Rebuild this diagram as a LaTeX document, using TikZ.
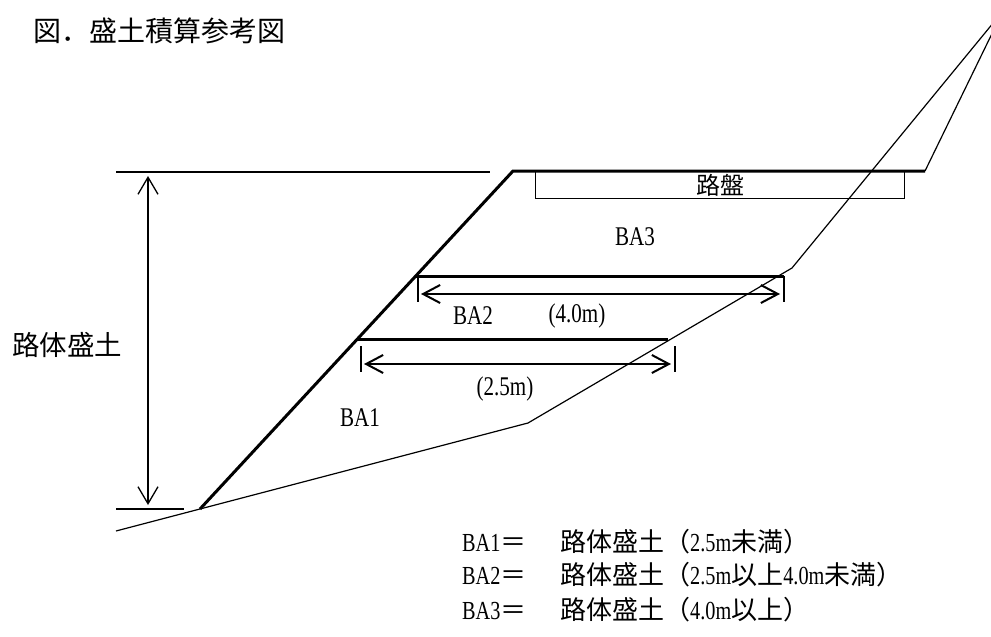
\documentclass[tikz,border=0pt]{standalone}
\usepackage{fontspec}
\setmainfont{Liberation Serif}[FakeStretch=0.78]
\newfontfamily\jp{Noto Sans CJK JP}
\usepackage{tikz}
\usetikzlibrary{arrows.meta}
\tikzset{embank_line/.style={line width=3pt, line join=miter}}
\tikzset{ground_line/.style={line width=1.2pt}}
\tikzset{tick_line/.style={line width=1.5pt}}
\tikzset{width_arrow/.style={<->, >={Straight Barb[length=17pt,width=18pt]}, line width=2pt}}
\tikzset{height_arrow/.style={<->, >={Straight Barb[length=17pt,width=20pt]}, line width=1.3pt}}
\tikzset{my_text/.style={inner sep=0pt}}
\newcommand{\fs}[1]{\fontsize{#1}{#1}\selectfont}

\begin{document}
\begin{tikzpicture}[x=1pt,y=-1pt]
    \useasboundingbox (0,0) rectangle (991,637);
    \clip (0,0) rectangle (991,637);
    %\draw[help lines, step=50] (0,0) grid (991,637);

    % section of the embankment
    \coordinate (toe) at (200,509);
    \coordinate (crest) at (513,171);
    \coordinate (shoulder) at (925,171);
    \coordinate (apex) at (1003,11);
    \coordinate (bend_up) at (792,268);
    \coordinate (bend_low) at (528,423);
    \coordinate (ground_end) at (116,531);
    \draw[ground_line] (ground_end) -- (bend_low) -- (bend_up) -- (apex) -- (shoulder);
    \draw[embank_line] (toe) -- (crest) -- (shoulder);

    % height of the embankment
    \coordinate (top_l) at (116,172);
    \coordinate (top_r) at (490,172);
    \coordinate (bot_l) at (116,509);
    \coordinate (bot_r) at (184,509);
    \coordinate (h_top) at (148,176);
    \coordinate (h_bot) at (148,505);
    \draw[ground_line] (top_l) -- (top_r);
    \draw[ground_line] (bot_l) -- (bot_r);
    \draw[height_arrow] (h_top) -- (h_bot);
    \node[my_text, anchor=west, font=\fs{27.5}] (body) at (12,345) {\jp 路体盛土};

    % road bed
    \node[draw, ground_line, anchor=north west, minimum width=369pt, minimum height=27pt,
          inner sep=0pt, font=\fs{24}] (roadbed) at (535,171) {\jp 路盤};

    % width 4.0m
    \coordinate (ba2_l) at (416,276);
    \coordinate (ba2_r) at (784,276);
    \draw[embank_line] (ba2_l) -- (ba2_r);
    \coordinate (ba2_tl) at (418,302);
    \coordinate (ba2_tr) at (784,302);
    \draw[tick_line] (ba2_l -| ba2_tl) -- (ba2_tl);
    \draw[tick_line] (ba2_r) -- (ba2_tr);
    \coordinate (ba2_al) at (421,294);
    \coordinate (ba2_ar) at (780,294);
    \draw[width_arrow] (ba2_al) -- (ba2_ar);

    % width 2.5m
    \coordinate (ba1_l) at (357,339);
    \coordinate (ba1_r) at (668,339);
    \draw[embank_line] (ba1_l) -- (ba1_r);
    \coordinate (ba1_tl) at (361,346);
    \coordinate (ba1_tr) at (675,346);
    \draw[tick_line] (ba1_tl) -- ++(0,26);
    \draw[tick_line] (ba1_tr) -- ++(0,26);
    \coordinate (ba1_al) at (364,364);
    \coordinate (ba1_ar) at (671,364);
    \draw[width_arrow] (ba1_al) -- (ba1_ar);

    % labels of the parts
    \node[my_text, font=\fs{27}] (ba3) at (635,237) {BA3};
    \node[my_text, font=\fs{27}] (ba2) at (473,316) {BA2};
    \node[my_text, font=\fs{27}] (w_ba2) at (577,316) {(4.0m)};
    \node[my_text, font=\fs{27}] (w_ba1) at (505,389) {(2.5m)};
    \node[my_text, font=\fs{27}] (ba1) at (360,418) {BA1};

    % title
    \node[my_text, anchor=west, font=\fs{28}] (title) at (33,31) {\jp 図．盛土積算参考図};

    % legend
    \node[my_text, anchor=base west, font=\fs{26}] (key_ba1) at (462,551) {BA1{\jp ＝}};
    \node[my_text, anchor=base west, font=\fs{26}] (txt_ba1) at (560,551) {{\jp 路体盛土（}2.5m{\jp 未満）}};
    \node[my_text, anchor=base west, font=\fs{26}] (key_ba2) at (462,584) {BA2{\jp ＝}};
    \node[my_text, anchor=base west, font=\fs{26}] (txt_ba2) at (560,584) {{\jp 路体盛土（}2.5m{\jp 以上}4.0m{\jp 未満）}};
    \node[my_text, anchor=base west, font=\fs{26}] (key_ba3) at (462,619) {BA3{\jp ＝}};
    \node[my_text, anchor=base west, font=\fs{26}] (txt_ba3) at (560,619) {{\jp 路体盛土（}4.0m{\jp 以上）}};
\end{tikzpicture}
\end{document}
